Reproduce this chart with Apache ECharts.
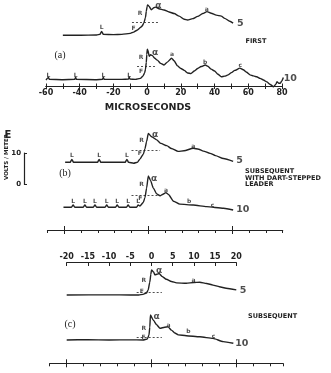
<!DOCTYPE html>
<html><head><meta charset="utf-8">
<script src="https://cdn.jsdelivr.net/npm/echarts@6/dist/echarts.min.js"></script>
<style>html,body{margin:0;padding:0;background:#fff}#c{width:331px;height:373px}</style>
</head><body><div id="c"></div>
<script>
// ---------- DATA (time in microseconds, field in V/m above each trace's baseline) ----------
// (a) FIRST return stroke, 5 km
const traceA5 = [[-50,0],[-40,0],[-30,0.1],[-28,0.3],[-27,1.2],[-26,0.3],[-20,0.2],[-15,0.3],[-10,0.6],[-8,1.0],[-6,1.6],[-4,2.4],[-3,2.9],[-2,3.8],[-1,5.5],[-0.5,7.5],[0,9.0],[0.3,9.5],[1.2,9.0],[2.5,8.0],[4,8.6],[5,8.8],[7,8.3],[10,7.9],[13,7.3],[16,6.8],[19,6.0],[22,5.0],[24,4.8],[27,5.2],[30,5.9],[33,6.8],[35.5,7.4],[38,6.9],[41,6.3],[44,6.0],[46,5.3],[49,4.4],[51,3.8]];
// (a) FIRST return stroke, 10 km
const traceA10 = [[-60,0],[-59,0.6],[-58.6,0.9],[-58,0.2],[-50,0.1],[-43,0.2],[-42.4,0.9],[-42,0.2],[-30,0.1],[-26.5,0.2],[-26,0.9],[-25.5,0.2],[-15,0.2],[-11,0.3],[-10.7,1.0],[-10.2,0.3],[-7,0.2],[-4,0.5],[-2.5,1.2],[-1.5,2.2],[-1,3.3],[-0.5,5.5],[-0.2,8],[0.1,9.6],[0.5,9.2],[1.2,7.4],[2,7.9],[3,7.7],[4.5,6.8],[6,6.2],[8,5.2],[10,4.7],[12,5.6],[14.5,6.8],[16,6.0],[18,4.4],[20,3.6],[22,3.0],[24,2.2],[26,2.0],[28,2.8],[30,3.6],[32,4.2],[34.5,4.7],[36,4.3],[38,3.4],[40,2.8],[42,1.8],[44,1.0],[46,1.2],[48,1.6],[50,2.3],[52,3.0],[55,3.7],[57,3.2],[59,2.4],[61,1.6],[63,1.3],[65,1.0],[67,0.5],[69,0.0],[71,-0.6],[73,-1.4],[75,-2.1],[76.5,-1.2],[77,-0.5],[78,-1.0],[79,-1.0],[80,-0.2],[80.8,0.8]];
// (b) SUBSEQUENT with dart-stepped leader, 5 km
const traceB5 = [[-19.8,0],[-18.6,0],[-18.2,0.9],[-17.8,0],[-12.1,0],[-11.7,0.9],[-11.3,0],[-5.5,0],[-5.1,0.9],[-4.7,0],[-3.5,-0.3],[-2.6,0],[-2,1.0],[-1.2,2.5],[-0.8,4.2],[-0.4,6.5],[0,9.0],[0.8,8.0],[2,7.0],[3,5.9],[4.4,5.2],[5.5,4.3],[7.1,3.4],[8.5,3.6],[10.7,4.4],[12,4.1],[13.1,3.5],[14.7,2.8],[16,2.1],[17.9,1.2],[20.2,0.3]];
// (b) SUBSEQUENT with dart-stepped leader, 10 km
const traceB10 = [[-20.2,0],[-18.3,0],[-17.9,0.7],[-17.5,0],[-15.5,0],[-15.1,0.7],[-14.7,0],[-13.1,0],[-12.7,0.7],[-12.3,0],[-10.3,0],[-9.9,0.7],[-9.5,0],[-7.8,0],[-7.4,0.7],[-7.0,0],[-5.2,0],[-4.8,0.7],[-4.4,0],[-2.8,0],[-2.4,0.7],[-2.0,0.4],[-1.2,1.5],[-0.8,3.0],[-0.4,6],[0,9.8],[0.5,8.5],[1.2,6.0],[2,4.2],[2.8,3.6],[3.5,4.1],[4.2,4.6],[4.8,4.0],[6,1.9],[7.5,1.0],[10.7,0.7],[13.9,0.2],[17.9,-0.3],[20.2,-0.85]];
// (c) SUBSEQUENT, 5 km
const traceC5 = [[-20,0],[-10,0.05],[-5,0],[-3,0],[-2,0.2],[-1.2,0.6],[-0.8,1.5],[-0.4,4],[-0.15,6.5],[0,7.8],[0.5,7.2],[0.8,6.3],[1.3,6.5],[1.8,6.7],[2.5,5.8],[3.5,4.9],[4.7,4.2],[5.9,3.8],[8.2,3.65],[10,3.9],[11.4,4.0],[13,3.6],[14.5,3.1],[16,2.6],[17.6,2.1],[20,1.6]];
// (c) SUBSEQUENT, 10 km
const traceC10 = [[-20,0],[-15,0.1],[-10,0],[-5,0.05],[-2,0],[-1,0.3],[-0.6,1.5],[-0.4,4],[-0.25,7.8],[0.4,6.25],[1.2,4.8],[2.0,3.65],[3.1,4.0],[3.9,4.1],[4.7,3.1],[5.5,2.2],[6.3,1.6],[8.2,1.35],[11.4,1.0],[14.5,0.5],[16.9,-0.5],[19.3,-1.0]];

// dashed "F" level lines: [tStart, tEnd, level]
const dashA5 = [-9, 6.7, 4.1], dashA10 = [-6, 5.7, 4.2];
const dashB5 = [-4, 2.8, 3.8], dashB10 = [-4, 2.4, 3.8];
const dashC5 = [-3.5, 2.4, 1.0], dashC10 = [-3.5, 2.4, 0.85];

// annotations [t, V, text]
const notesA5 = [[-27,2.6,'L'],[-8.1,2.2,'F'],[-4.2,6.9,'R'],[6.7,9.2,'α'],[35.4,8.1,'a'],[55.2,3.7,'5']];
const notesA10 = [[-58.6,1.3,'L'],[-42.4,1.3,'L'],[-26,1.3,'L'],[-10.7,1.3,'L'],[-3.6,2.8,'F'],[-3.6,7.1,'R'],[4.7,8.7,'α'],[14.7,8.1,'a'],[34.4,5.5,'b'],[55.2,4.5,'c'],[84.9,0.5,'10']];
const notesB5 = [[-18.2,2.0,'L'],[-11.7,2.0,'L'],[-5.1,2.0,'L'],[-2,2.8,'F'],[-1.6,6.75,'R'],[1.6,8.75,'α'],[10.7,4.9,'a'],[21.7,0.55,'5']];
const notesB10 = [[-17.9,1.75,'L'],[-15.1,1.75,'L'],[-12.7,1.75,'L'],[-9.9,1.75,'L'],[-7.4,1.75,'L'],[-4.8,1.75,'L'],[-2.4,1.75,'L'],[-1.9,2.9,'F'],[-1.6,7.0,'R'],[1.4,9.1,'α'],[4.2,5.4,'a'],[9.7,1.75,'b'],[15.3,0.7,'c'],[22.5,-0.85,'10']];
const notesC5 = [[-2.3,1.0,'F'],[-1.8,4.7,'R'],[1.8,7.5,'α'],[9.9,4.7,'a'],[21.6,1.35,'5']];
const notesC10 = [[-1.9,0.85,'F'],[-1.8,3.7,'R'],[1.2,7.3,'α'],[4.0,4.7,'a'],[8.7,2.6,'b'],[14.6,1.25,'c'],[21.3,-1.25,'10']];

// tick labels
const ticksA = [-60,-40,-20,0,20,40,60,80];
const ticksC = [-20,-15,-10,-5,0,5,10,15,20];
const scaleBar = [0,10];

// ---------- BUILD ----------
const INK = '#222';
const FONT = 'DejaVu Sans';
const PX = 3.2;            // px per V/m (10 V/m scale bar ~32 px)
const YMIN = -3, YMAX = 11;
const grids = [], xAxis = [], yAxis = [], series = [];
function addGrid(g, xa, ya) {
  const i = grids.length;
  grids.push(g);
  xAxis.push(Object.assign({gridIndex: i, type: 'value', splitLine: {show: false}}, xa));
  yAxis.push(Object.assign({gridIndex: i, type: 'value', splitLine: {show: false}}, ya));
  series.push({type: 'line', xAxisIndex: i, yAxisIndex: i, data: [], silent: true});
  return i;
}
const P = {
  a: {left: 46, width: 236, min: -60, max: 80},
  b: {left: 47.5, width: 235.2, min: -24, max: 32},
  c: {left: 49.74, width: 237.44, min: -24, max: 32}
};
function trace(p, base, data, dash, notes) {
  const i = addGrid({left: p.left, width: p.width, top: base - YMAX * PX, height: (YMAX - YMIN) * PX},
    {min: p.min, max: p.max, show: false}, {min: YMIN, max: YMAX, show: false});
  series.push({
    type: 'line', xAxisIndex: i, yAxisIndex: i, data: data, symbol: 'none', showSymbol: false,
    smooth: 0.2, smoothMonotone: 'x', clip: false, silent: true,
    lineStyle: {color: INK, width: 1.4},
    markLine: {silent: true, symbol: 'none', label: {show: false},
      lineStyle: {color: INK, type: [2, 2], width: 0.8},
      data: [[{coord: [dash[0], dash[2]]}, {coord: [dash[1], dash[2]]}]]}
  });
  series.push({
    type: 'scatter', xAxisIndex: i, yAxisIndex: i, symbolSize: 1, clip: false, silent: true,
    itemStyle: {color: 'rgba(0,0,0,0)'},
    data: notes.map(n => ({value: [n[0], n[1]], name: n[2],
      label: {fontSize: n[2] === 'α' ? 9 : (/\d/.test(n[2]) ? 9.5 : 6)}})),
    label: {show: true, position: 'inside', formatter: q => q.name, color: INK,
      fontFamily: FONT, fontWeight: 'bold'}
  });
}
trace(P.a, 35.3, traceA5, dashA5, notesA5);
trace(P.a, 80, traceA10, dashA10, notesA10);
trace(P.b, 162.3, traceB5, dashB5, notesB5);
trace(P.b, 207.3, traceB10, dashB10, notesB10);
trace(P.c, 295, traceC5, dashC5, notesC5);
trace(P.c, 340, traceC10, dashC10, notesC10);

const axLine = {show: true, onZero: false, lineStyle: {color: INK, width: 1.2}};
const noLine = {show: false, onZero: false};
const lab = {fontSize: 8, fontWeight: 'bold', color: INK, fontFamily: FONT};
const noY = {show: false, min: 0, max: 1};
// (a) time axis (ticks both sides)
addGrid({left: P.a.left, width: P.a.width, top: 76, height: 10},
  {min: -60, max: 80, interval: 10, position: 'bottom', axisLine: axLine,
   axisTick: {length: 3, lineStyle: {color: INK}},
   axisLabel: Object.assign({margin: 3, showMinLabel: true, showMaxLabel: true,
     formatter: v => ticksA.includes(v) ? String(v) : ''}, lab)}, noY);
addGrid({left: P.a.left, width: P.a.width, top: 76, height: 10},
  {min: -60, max: 80, interval: 10, position: 'bottom', axisLine: axLine,
   axisTick: {inside: true, length: 2.5, lineStyle: {color: INK}}, axisLabel: {show: false}}, noY);
// (b) time axis
addGrid({left: P.b.left, width: 56 * 4.2, top: 220, height: 10},
  {min: -24, max: 32, interval: 4, position: 'bottom', axisLine: axLine,
   axisTick: {length: 3, lineStyle: {color: INK}}, axisLabel: {show: false}}, noY);
addGrid({left: 148.3 - 84, width: 168, top: 220, height: 10},
  {min: -20, max: 20, interval: 20, position: 'bottom', axisLine: noLine,
   axisTick: {inside: true, length: 4, lineStyle: {color: INK}}, axisLabel: {show: false}}, noY);
addGrid({left: 148.3 - 84, width: 168, top: 220, height: 10},
  {min: -20, max: 20, interval: 20, position: 'bottom', axisLine: noLine,
   axisTick: {length: 4, lineStyle: {color: INK}}, axisLabel: {show: false}}, noY);
// (c) labelled top axis
addGrid({left: 151.5 - 84.8, width: 169.6, top: 262.5, height: 10},
  {min: -20, max: 20, interval: 5, position: 'top', axisLine: axLine,
   axisTick: {inside: true, length: 3.5, lineStyle: {color: INK}},
   axisLabel: Object.assign({margin: 2, showMinLabel: true, showMaxLabel: true,
     formatter: v => ticksC.includes(v) ? String(v) : ''}, lab)}, noY);
// (c) bottom axis
addGrid({left: P.c.left, width: 55 * 4.24, top: 353.3, height: 10},
  {min: -24, max: 31, interval: 4, position: 'bottom', axisLine: axLine,
   axisTick: {length: 3, lineStyle: {color: INK}}, axisLabel: {show: false}}, noY);
addGrid({left: 151.5 - 84.8, width: 169.6, top: 353.3, height: 10},
  {min: -20, max: 20, interval: 20, position: 'bottom', axisLine: noLine,
   axisTick: {inside: true, length: 4, lineStyle: {color: INK}}, axisLabel: {show: false}}, noY);
addGrid({left: 151.5 - 84.8, width: 169.6, top: 353.3, height: 10},
  {min: -20, max: 20, interval: 20, position: 'bottom', axisLine: noLine,
   axisTick: {length: 4, lineStyle: {color: INK}}, axisLabel: {show: false}}, noY);
// 10 V/m scale bar
addGrid({left: 24, width: 6, top: 153, height: 31.5},
  {show: false, min: 0, max: 1},
  {min: 0, max: 10, interval: 10, axisLine: axLine,
   axisTick: {show: true, inside: true, length: 3, lineStyle: {color: INK}},
   axisLabel: Object.assign({margin: 3, showMinLabel: true, showMaxLabel: true,
     formatter: v => scaleBar.includes(v) ? String(v) : ''}, lab, {fontSize: 7})});

function txt(x, y, text, size, opt) {
  return Object.assign({type: 'text', x: x, y: y, silent: true,
    style: Object.assign({text: text, fill: INK, fontFamily: FONT, fontWeight: 'bold', fontSize: size,
      align: 'center', verticalAlign: 'middle'}, (opt && opt.style) || {})}, opt ? {rotation: opt.rotation || 0} : {});
}
const graphic = [
  txt(8, 135, 'E', 10),
  txt(6.5, 157, 'VOLTS / METER', 5.5, {rotation: Math.PI / 2}),
  txt(148, 107.5, 'MICROSECONDS', 9.5),
  txt(60, 55, '(a)', 10, {style: {fontFamily: 'Liberation Serif', fontWeight: 'normal'}}),
  txt(65, 173.5, '(b)', 10, {style: {fontFamily: 'Liberation Serif', fontWeight: 'normal'}}),
  txt(70, 324, '(c)', 10, {style: {fontFamily: 'Liberation Serif', fontWeight: 'normal'}}),
  txt(256, 41, 'FIRST', 6.5),
  txt(245, 178, 'SUBSEQUENT\nWITH DART-STEPPED\nLEADER', 6.5, {style: {align: 'left', lineHeight: 6.8}}),
  txt(248, 316, 'SUBSEQUENT', 6.5, {style: {align: 'left'}})
];

const chart = echarts.init(document.getElementById('c'), null, {renderer: 'canvas'});
chart.setOption({
  backgroundColor: '#fff', animation: false,
  grid: grids, xAxis: xAxis, yAxis: yAxis, series: series, graphic: graphic
});
</script></body></html>
